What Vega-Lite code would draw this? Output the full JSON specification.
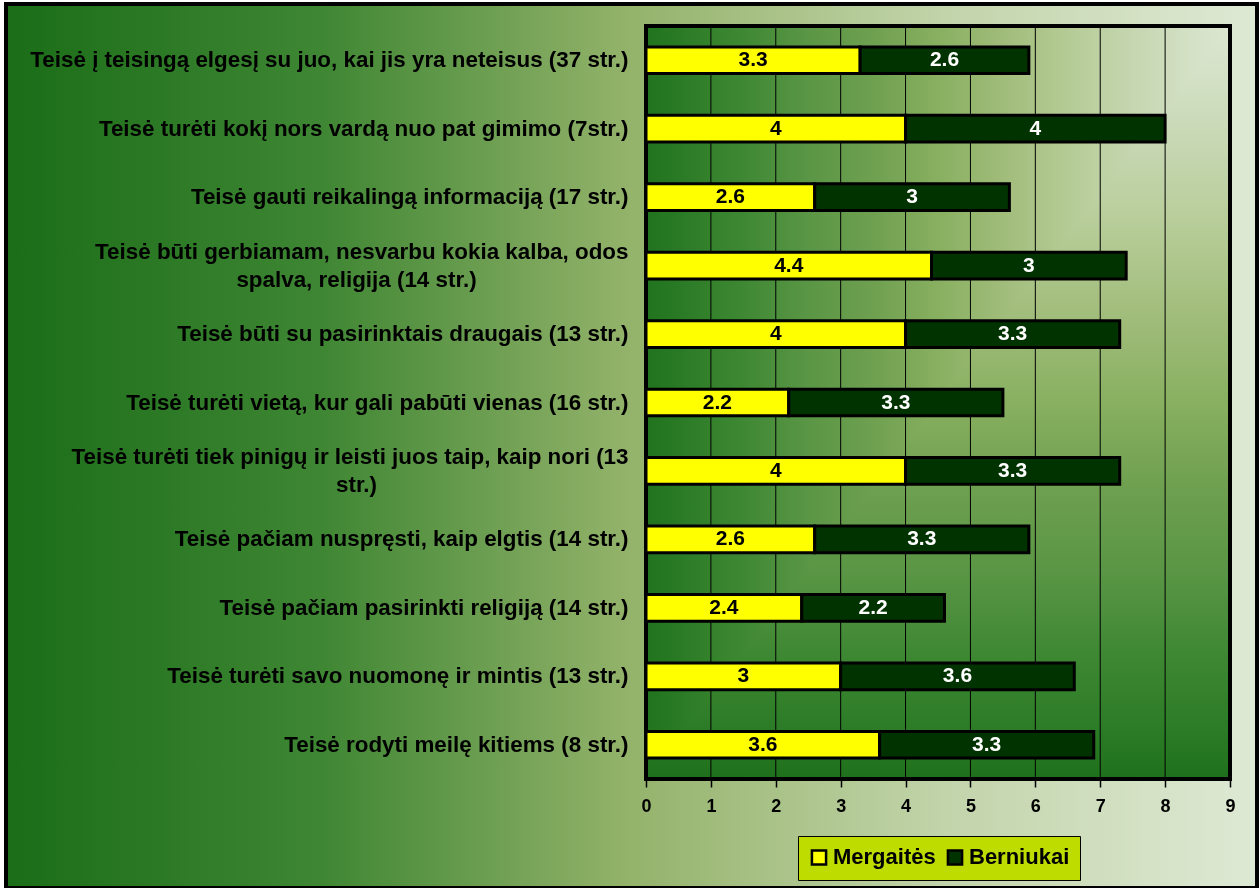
{
  "$schema": "https://vega.github.io/schema/vega-lite/v6.json",
  "width": 1251,
  "height": 884,
  "autosize": "none",
  "padding": {"left": 6, "top": 4, "right": 3, "bottom": 0},
  "background": "white",
  "config": {
    "view": {"stroke": null},
    "font": "Liberation Sans",
    "axis": {"zindex": 2}
  },
  "datasets": {
    "rights": [
      {"cat": "Teisė į teisingą elgesį su juo, kai jis yra neteisus (37 str.)", "series": "Mergaitės", "value": 3.3},
      {"cat": "Teisė į teisingą elgesį su juo, kai jis yra neteisus (37 str.)", "series": "Berniukai", "value": 2.6},
      {"cat": "Teisė turėti kokį nors vardą nuo pat gimimo (7str.)", "series": "Mergaitės", "value": 4},
      {"cat": "Teisė turėti kokį nors vardą nuo pat gimimo (7str.)", "series": "Berniukai", "value": 4},
      {"cat": "Teisė gauti reikalingą informaciją (17 str.)", "series": "Mergaitės", "value": 2.6},
      {"cat": "Teisė gauti reikalingą informaciją (17 str.)", "series": "Berniukai", "value": 3},
      {"cat": "Teisė būti gerbiamam, nesvarbu kokia kalba, odos|spalva, religija (14 str.)", "series": "Mergaitės", "value": 4.4},
      {"cat": "Teisė būti gerbiamam, nesvarbu kokia kalba, odos|spalva, religija (14 str.)", "series": "Berniukai", "value": 3},
      {"cat": "Teisė būti su pasirinktais draugais (13 str.)", "series": "Mergaitės", "value": 4},
      {"cat": "Teisė būti su pasirinktais draugais (13 str.)", "series": "Berniukai", "value": 3.3},
      {"cat": "Teisė turėti vietą, kur gali pabūti vienas (16 str.)", "series": "Mergaitės", "value": 2.2},
      {"cat": "Teisė turėti vietą, kur gali pabūti vienas (16 str.)", "series": "Berniukai", "value": 3.3},
      {"cat": "Teisė turėti tiek pinigų ir leisti juos taip, kaip nori (13|str.)", "series": "Mergaitės", "value": 4},
      {"cat": "Teisė turėti tiek pinigų ir leisti juos taip, kaip nori (13|str.)", "series": "Berniukai", "value": 3.3},
      {"cat": "Teisė pačiam nuspręsti, kaip elgtis (14 str.)", "series": "Mergaitės", "value": 2.6},
      {"cat": "Teisė pačiam nuspręsti, kaip elgtis (14 str.)", "series": "Berniukai", "value": 3.3},
      {"cat": "Teisė pačiam pasirinkti religiją (14 str.)", "series": "Mergaitės", "value": 2.4},
      {"cat": "Teisė pačiam pasirinkti religiją (14 str.)", "series": "Berniukai", "value": 2.2},
      {"cat": "Teisė turėti savo nuomonę ir mintis (13 str.)", "series": "Mergaitės", "value": 3},
      {"cat": "Teisė turėti savo nuomonę ir mintis (13 str.)", "series": "Berniukai", "value": 3.6},
      {"cat": "Teisė rodyti meilę kitiems (8 str.)", "series": "Mergaitės", "value": 3.6},
      {"cat": "Teisė rodyti meilę kitiems (8 str.)", "series": "Berniukai", "value": 3.3}
    ],
    "gridlines": [{"g": 1}, {"g": 2}, {"g": 3}, {"g": 4}, {"g": 5}, {"g": 6}, {"g": 7}, {"g": 8}]
  },
  "data": {"name": "rights"},
  "layer": [
    {
      "data": {"values": [{}]},
      "mark": {
        "type": "rect",
        "stroke": "black",
        "strokeWidth": 4,
        "color": {
          "gradient": "linear", "x1": 0, "y1": 0, "x2": 1, "y2": 0,
          "stops": [
            {"offset": 0, "color": "#1b6d18"},
            {"offset": 0.25, "color": "#3e8633"},
            {"offset": 0.5, "color": "#94b36b"},
            {"offset": 0.75, "color": "#c2d4aa"},
            {"offset": 1, "color": "#dee9d4"}
          ]
        }
      },
      "encoding": {}
    },
    {
      "data": {"values": [{}]},
      "mark": {
        "type": "rect",
        "color": {
          "gradient": "linear", "x1": 0, "y1": 0, "x2": 1, "y2": 0,
          "stops": [
            {"offset": 0, "color": "#21731d"},
            {"offset": 0.056, "color": "#2a7a25"},
            {"offset": 0.167, "color": "#3f8833"},
            {"offset": 0.278, "color": "#5a9645"},
            {"offset": 0.389, "color": "#6ea050"},
            {"offset": 0.5, "color": "#88b060"},
            {"offset": 0.611, "color": "#a0bc7a"},
            {"offset": 0.722, "color": "#b5cb95"},
            {"offset": 0.833, "color": "#c5d6b0"},
            {"offset": 0.944, "color": "#d5e2c8"},
            {"offset": 1, "color": "#dbe7cf"}
          ]
        }
      },
      "encoding": {
        "x": {"datum": 0, "type": "quantitative", "scale": {"domain": [0, 9], "range": [640, 1224], "nice": false}, "axis": null},
        "x2": {"datum": 9},
        "y": {"datum": 0, "type": "quantitative", "scale": {"domain": [0, 1], "range": [22, 775], "nice": false, "zero": false}, "axis": null},
        "y2": {"datum": 1}
      }
    },
    {
      "data": {"values": [{}]},
      "mark": {
        "type": "rect",
        "blend": "darken",
        "color": {
          "gradient": "linear", "x1": 0, "y1": 0, "x2": 0, "y2": 1,
          "stops": [
            {"offset": 0, "color": "#dbe7cf"},
            {"offset": 0.056, "color": "#d5e2c8"},
            {"offset": 0.167, "color": "#c5d6b0"},
            {"offset": 0.278, "color": "#b5cb95"},
            {"offset": 0.389, "color": "#a0bc7a"},
            {"offset": 0.5, "color": "#88b060"},
            {"offset": 0.611, "color": "#6ea050"},
            {"offset": 0.722, "color": "#5a9645"},
            {"offset": 0.833, "color": "#3f8833"},
            {"offset": 0.944, "color": "#2a7a25"},
            {"offset": 1, "color": "#1f701c"}
          ]
        }
      },
      "encoding": {
        "x": {"datum": 0, "type": "quantitative", "scale": {"domain": [0, 9], "range": [640, 1224], "nice": false}, "axis": null},
        "x2": {"datum": 9},
        "y": {"datum": 0, "type": "quantitative", "scale": {"domain": [0, 1], "range": [22, 775], "nice": false, "zero": false}, "axis": null},
        "y2": {"datum": 1}
      }
    },
    {
      "data": {"name": "gridlines"},
      "mark": {"type": "rule", "color": "black", "strokeWidth": 1},
      "encoding": {
        "x": {"field": "g", "type": "quantitative", "scale": {"domain": [0, 9], "range": [640, 1224], "nice": false}, "axis": null},
        "y": {"datum": 0, "type": "quantitative", "scale": {"domain": [0, 1], "range": [22, 775], "nice": false, "zero": false}, "axis": null},
        "y2": {"datum": 1}
      }
    },
    {
      "data": {"values": [{}]},
      "mark": {"type": "rect", "fill": null, "fillOpacity": 0, "stroke": "black", "strokeWidth": 4},
      "encoding": {
        "x": {"datum": 0, "type": "quantitative", "scale": {"domain": [0, 9], "range": [640, 1224], "nice": false}, "axis": null},
        "x2": {"datum": 9},
        "y": {"datum": 0, "type": "quantitative", "scale": {"domain": [0, 1], "range": [22, 775], "nice": false, "zero": false}, "axis": null},
        "y2": {"datum": 1}
      }
    },
    {
      "mark": {"type": "bar", "height": {"band": 0.39}, "stroke": "black", "strokeWidth": 3},
      "encoding": {
        "y": {
          "field": "cat", "type": "nominal", "sort": null,
          "scale": {"range": [22, 775], "paddingInner": 0, "paddingOuter": 0},
          "axis": {
            "orient": "left", "offset": -640, "title": null, "domain": false, "ticks": false, "tickSize": 0, "grid": false, "zindex": 2,
            "labelPadding": 18, "labelFontSize": 22.4, "labelFontWeight": "bold", "labelColor": "black",
            "labelFont": "Liberation Sans", "labelLimit": 900, "labelOverlap": false,
            "labelOffset": {"condition": {"test": "indexof(datum.label, '|') >= 0", "value": -14}, "value": 0},
            "labelExpr": "split(datum.label, '|')[0]"
          }
        },
        "x": {
          "field": "value", "type": "quantitative", "stack": "zero",
          "scale": {"domain": [0, 9], "range": [640, 1224], "nice": false},
          "axis": {
            "orient": "bottom", "offset": -109, "title": null, "domain": false, "grid": false, "zindex": 2,
            "values": [0, 1, 2, 3, 4, 5, 6, 7, 8, 9],
            "ticks": true, "tickSize": 8, "tickColor": "black", "tickWidth": 1.5,
            "labelFontSize": 18, "labelFontWeight": "bold", "labelColor": "black", "labelFont": "Liberation Sans",
            "labelPadding": 10, "labelFlush": false
          }
        },
        "color": {
          "field": "series", "type": "nominal",
          "scale": {"domain": ["Mergaitės", "Berniukai"], "range": ["#ffff00", "#003300"]},
          "legend": {
            "title": null, "orient": "none", "legendX": 792, "legendY": 832, "direction": "horizontal",
            "symbolType": "square", "symbolSize": 200, "symbolStrokeColor": "black", "symbolStrokeWidth": 2.5, "symbolOpacity": 1,
            "labelFontSize": 22, "labelFontWeight": "bold", "labelColor": "black", "labelFont": "Liberation Sans",
            "padding": 10, "columnPadding": 6, "labelOffset": 3,
            "strokeColor": "black",
            "fillColor": "#bedc00"
          }
        },
        "order": {"field": "series", "type": "nominal", "sort": "descending"}
      }
    },
    {
      "mark": {"type": "text", "fontSize": 21, "fontWeight": "bold", "font": "Liberation Sans", "baseline": "middle", "align": "center"},
      "encoding": {
        "y": {
          "field": "cat", "type": "nominal", "sort": null,
          "scale": {"range": [22, 775], "paddingInner": 0, "paddingOuter": 0},
          "axis": {
            "orient": "left", "offset": -640, "title": null, "domain": false, "ticks": false, "tickSize": 0, "grid": false, "zindex": 2,
            "labelPadding": 290, "labelAlign": "center", "labelFontSize": 22.4, "labelFontWeight": "bold", "labelColor": "black",
            "labelFont": "Liberation Sans", "labelLimit": 900, "labelOverlap": false, "labelOffset": 14,
            "labelExpr": "indexof(datum.label, '|') >= 0 ? split(datum.label, '|')[1] : ''"
          }
        },
        "x": {
          "field": "value", "type": "quantitative", "stack": "zero", "bandPosition": 0.5,
          "scale": {"domain": [0, 9], "range": [640, 1224], "nice": false},
          "axis": null
        },
        "detail": {"field": "series", "type": "nominal"},
        "order": {"field": "series", "type": "nominal", "sort": "descending"},
        "text": {"field": "value", "type": "quantitative"},
        "color": {"condition": {"test": "datum.series === 'Berniukai'", "value": "white"}, "value": "black"}
      }
    }
  ],
  "resolve": {"scale": {"y": "independent"}, "axis": {"x": "independent"}}
}
